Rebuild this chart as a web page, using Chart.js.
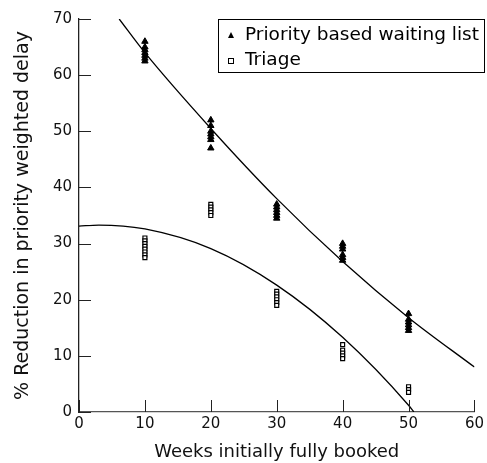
<!DOCTYPE html>
<html>
<head>
<meta charset="utf-8">
<script src="https://cdn.jsdelivr.net/npm/chart.js@4.4.0/dist/chart.umd.min.js"></script>
<style>
  body { margin: 0; background: #fff; }
  #wrap { width: 487px; height: 463px; }
</style>
</head>
<body>
<div id="wrap"><canvas id="myChart" width="487" height="463"></canvas></div>
<script>
// Weeks initially fully booked (x) for each observed point
var priorityX = [10, 10, 10, 10, 10, 10, 10, 20, 20, 20, 20, 20, 20, 20, 30, 30, 30, 30, 30, 30, 40, 40, 40, 40, 40, 40, 50, 50, 50, 50, 50, 50];
var priorityY = [66, 65, 64.5, 64, 63.5, 63, 62.5, 52, 51, 50, 49.5, 49, 48.5, 47, 37, 36.5, 36, 35.5, 35, 34.5, 30, 29.5, 29, 28, 27.5, 27, 17.5, 16.5, 16, 15.5, 15, 14.5];

var triageX = [10, 10, 10, 10, 10, 10, 10, 10, 20, 20, 20, 20, 20, 30, 30, 30, 30, 30, 30, 40, 40, 40, 40, 40, 50, 50, 50];
var triageY = [31, 30.5, 30, 29.5, 29, 28.5, 28, 27.5, 37, 36.5, 36, 35.5, 35, 21.5, 21, 20.5, 20, 19.5, 19, 12, 11, 10.5, 10, 9.5, 4.5, 4, 3.5];

// Fitted curves
var upperFitX = [6.1, 10, 20, 30, 40, 50, 60];
var upperFitY = [70, 64, 50.5, 38, 26.8, 16.8, 8];
var lowerFitX = [0, 3, 10, 20, 30, 40, 50, 50.8];
var lowerFitY = [33.1, 33.3, 32.6, 29.1, 22.6, 13.3, 1.2, 0];

var xTicks = [0, 10, 20, 30, 40, 50, 60];
var yTicks = [0, 10, 20, 30, 40, 50, 60, 70];

function toPoints(xs, ys) {
    return xs.map(function (x, i) { return { x: x, y: ys[i] }; });
}

var font = "'DejaVu Sans', sans-serif";

// Draw the inward tick marks and the legend box
var extras = {
    id: 'extras',
    afterDraw: function (chart) {
        var ctx = chart.ctx;
        var xs = chart.scales.x, ys = chart.scales.y;
        var area = chart.chartArea;
        ctx.save();
        ctx.strokeStyle = '#222';
        ctx.lineWidth = 1;
        xTicks.forEach(function (t) {
            var px = Math.round(xs.getPixelForValue(t)) + 0.5;
            ctx.beginPath();
            ctx.moveTo(px, area.bottom);
            ctx.lineTo(px, area.bottom - 12);
            ctx.stroke();
        });
        yTicks.forEach(function (t) {
            var py = Math.round(ys.getPixelForValue(t)) + 0.5;
            ctx.beginPath();
            ctx.moveTo(area.left, py);
            ctx.lineTo(area.left + 12, py);
            ctx.stroke();
        });

        // legend
        var lx = 218.5, ly = 19.5, lw = 266, lh = 53;
        ctx.fillStyle = '#fff';
        ctx.fillRect(lx, ly, lw, lh);
        ctx.strokeStyle = '#000';
        ctx.strokeRect(lx, ly, lw, lh);
        ctx.fillStyle = '#000';
        ctx.beginPath();
        ctx.moveTo(231, 32);
        ctx.lineTo(234, 38);
        ctx.lineTo(228, 38);
        ctx.closePath();
        ctx.fill();
        ctx.strokeRect(228.5, 58.5, 5, 5);
        ctx.font = '18.5px ' + font;
        ctx.textBaseline = 'middle';
        ctx.textAlign = 'left';
        ctx.fillText('Priority based waiting list', 245, 35);
        ctx.fillText('Triage', 245, 60);
        ctx.restore();
    }
};

var ctx = document.getElementById('myChart').getContext('2d');
var myChart = new Chart(ctx, {
    type: 'scatter',
    data: {
        datasets: [{
            label: 'Priority based waiting list',
            data: toPoints(priorityX, priorityY),
            pointStyle: 'triangle',
            pointRadius: 3.7,
            backgroundColor: '#000',
            borderColor: '#000',
            borderWidth: 1
        }, {
            label: 'Triage',
            data: toPoints(triageX, triageY),
            pointStyle: 'rect',
            pointRadius: 2.8,
            backgroundColor: '#fff',
            borderColor: '#000',
            borderWidth: 1.2
        }, {
            label: 'upper fit',
            data: toPoints(upperFitX, upperFitY),
            showLine: true,
            pointRadius: 0,
            borderColor: '#000',
            borderWidth: 1.3,
            cubicInterpolationMode: 'monotone'
        }, {
            label: 'lower fit',
            data: toPoints(lowerFitX, lowerFitY),
            showLine: true,
            pointRadius: 0,
            borderColor: '#000',
            borderWidth: 1.3,
            cubicInterpolationMode: 'monotone'
        }]
    },
    options: {
        responsive: false,
        animation: false,
        layout: { padding: { top: 19, right: 10, left: 0, bottom: 0 } },
        plugins: {
            legend: { display: false },
            tooltip: { enabled: false }
        },
        scales: {
            x: {
                type: 'linear',
                min: 0,
                max: 60,
                afterBuildTicks: function (s) { s.ticks = xTicks.map(function (v) { return { value: v }; }); },
                afterFit: function (s) { s.height = 51; },
                grid: { drawOnChartArea: false, drawTicks: false },
                border: { color: '#555', width: 1.3 },
                ticks: { color: '#111', padding: 3, maxRotation: 0, font: { family: font, size: 15 } },
                title: {
                    display: true,
                    text: 'Weeks initially fully booked',
                    color: '#111',
                    padding: { top: 0, bottom: 0 },
                    font: { family: font, size: 18 }
                }
            },
            y: {
                type: 'linear',
                min: 0,
                max: 70,
                afterBuildTicks: function (s) { s.ticks = yTicks.map(function (v) { return { value: v }; }); },
                afterFit: function (s) { s.width = 79; },
                grid: { drawOnChartArea: false, drawTicks: false },
                border: { color: '#222', width: 1.3 },
                ticks: { color: '#111', padding: 7, font: { family: font, size: 15 } },
                title: {
                    display: true,
                    text: '% Reduction in priority weighted delay',
                    color: '#111',
                    padding: { top: 12, bottom: 0 },
                    font: { family: font, size: 19 }
                }
            }
        }
    },
    plugins: [extras]
});
</script>
</body>
</html>
